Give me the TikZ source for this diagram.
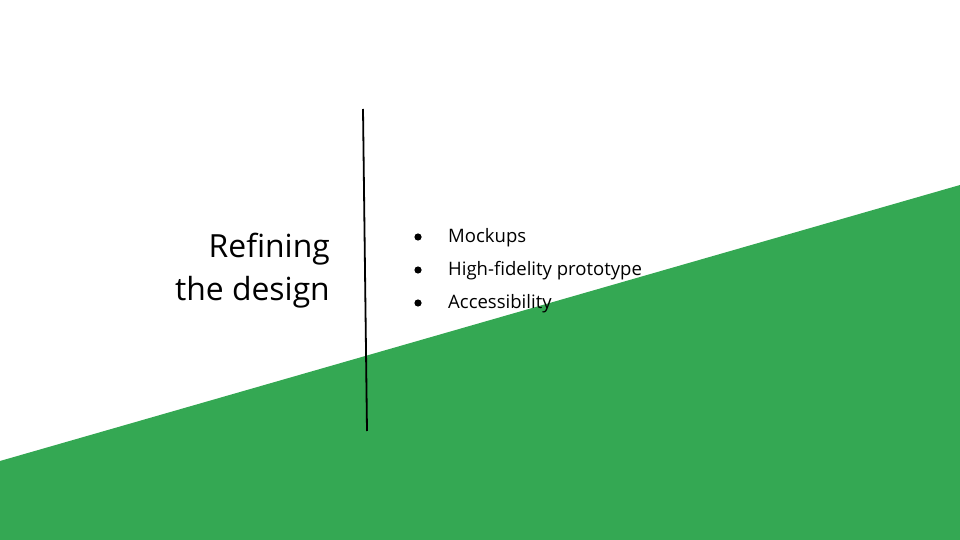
\documentclass[tikz,border=0pt]{standalone}
\usepackage{fontspec}
\setmainfont{Open Sans}
\usetikzlibrary{positioning}
\definecolor{slidegreen}{HTML}{34A853}

\tikzset{
	title/.style={anchor=base east,inner sep=0pt,font=\fontsize{32}{43}\selectfont},
	item/.style={anchor=base west,inner sep=0pt,font=\fontsize{18.6}{26}\selectfont},
	dot/.style={circle,fill=black,inner sep=0pt,minimum size=7.2bp}
}

\begin{document}
\begin{tikzpicture}[x=1bp,y=-1bp]
	\useasboundingbox (0,0) rectangle (960,540);
	\coordinate (A) at (0,461);
	\coordinate (B) at (960,185);
	\coordinate (C) at (960,540);
	\coordinate (D) at (0,540);
	\coordinate (T) at (363,109);
	\coordinate (U) at (367,431);

	\fill [slidegreen] (A) -- (B) -- (C) -- (D) -- cycle;

	\draw [line width=1.8bp] (T) -- (U);

	\node [title] (refining) at (330,258) {Refining};
	\node [title] (design) at (330,301) {the design};

	\node [item] (mockups) at (448,243) {Mockups};
	\node [item] (hifi) at (448,276) {High-fidelity prototype};
	\node [item] (access) at (448,309) {Accessibility};

	\node [dot] (m) at (418,237) {};
	\node [dot] (h) at (418,270) {};
	\node [dot] (a) at (418,303) {};

\end{tikzpicture}
\end{document}
